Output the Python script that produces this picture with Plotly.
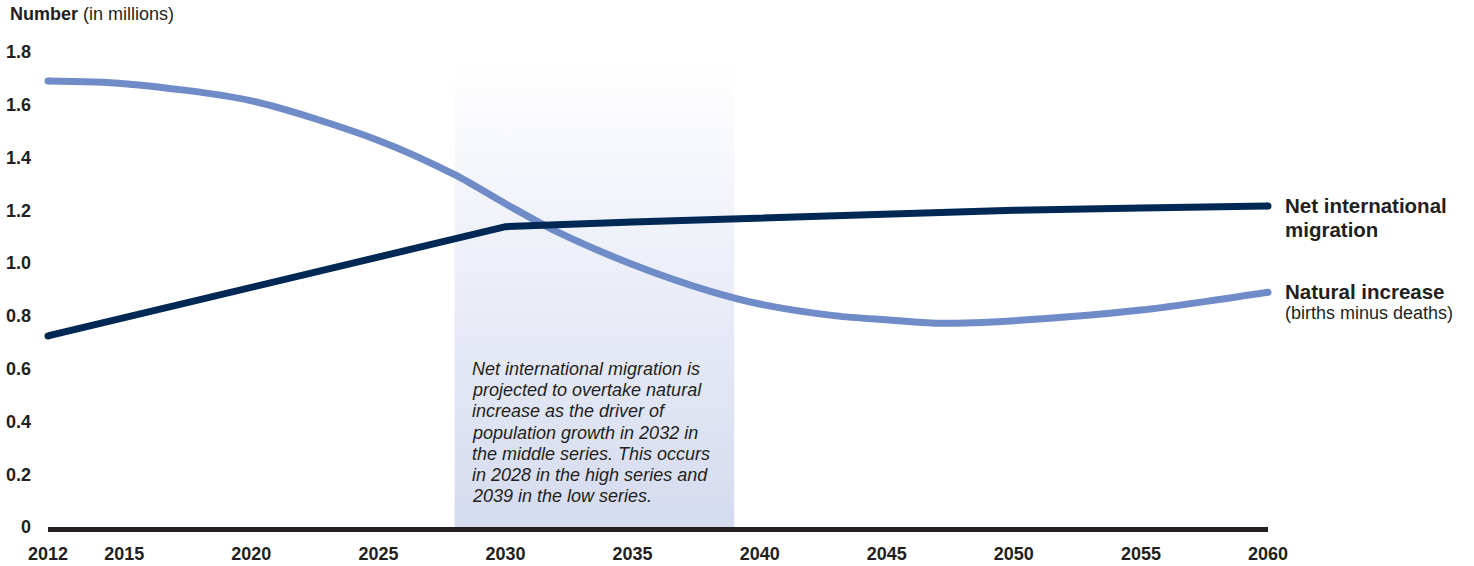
import plotly.graph_objects as go

# Projected components of population change (millions)
years_nat = [2012, 2015, 2020, 2025, 2028, 2030, 2032, 2035, 2038, 2040, 2043, 2045, 2047, 2050, 2055, 2060]
natural_increase = [1.69, 1.68, 1.615, 1.465, 1.335, 1.225, 1.12, 0.995, 0.895, 0.845, 0.80, 0.785, 0.772, 0.782, 0.822, 0.89]

years_mig = [2012, 2030, 2035, 2040, 2045, 2050, 2055, 2060]
net_migration = [0.724, 1.138, 1.156, 1.172, 1.189, 1.200, 1.209, 1.216]

band_years = [2028, 2039]
band_top = 1.77

x_ticks = [2012, 2015, 2020, 2025, 2030, 2035, 2040, 2045, 2050, 2055, 2060]
y_ticks = [0, 0.2, 0.4, 0.6, 0.8, 1.0, 1.2, 1.4, 1.6, 1.8]
y_tick_text = ["0", "0.2", "0.4", "0.6", "0.8", "1.0", "1.2", "1.4", "1.6", "1.8"]

note_lines = [
    "Net international migration is",
    "projected to overtake natural",
    "increase as the driver of",
    "population growth in 2032 in",
    "the middle series. This occurs",
    "in 2028 in the high series and",
    "2039 in the low series.",
]

NAT_COLOR = "#6f8cc8"
MIG_COLOR = "#002855"
TEXT = "#231f20"
FONT = "Liberation Sans, Arial, sans-serif"

fig = go.Figure()

# Shaded period with a vertical gradient
fig.add_trace(go.Scatter(
    x=[band_years[0], band_years[1], band_years[1], band_years[0], band_years[0]],
    y=[0, 0, band_top, band_top, 0],
    mode="lines", line=dict(width=0), fill="toself",
    fillgradient=dict(type="vertical",
                      colorscale=[[0, "#d5dbef"], [1, "#ffffff"]]),
    hoverinfo="skip", showlegend=False,
))

fig.add_trace(go.Scatter(
    x=years_nat, y=natural_increase, mode="lines",
    line=dict(color=NAT_COLOR, width=7, shape="spline", smoothing=0.8),
    showlegend=False, cliponaxis=False,
))
fig.add_trace(go.Scatter(
    x=[years_nat[0], years_nat[-1]], y=[natural_increase[0], natural_increase[-1]],
    mode="markers", marker=dict(color=NAT_COLOR, size=7, line=dict(width=0)),
    showlegend=False, cliponaxis=False,
))
fig.add_trace(go.Scatter(
    x=years_mig, y=net_migration, mode="lines",
    line=dict(color=MIG_COLOR, width=7),
    showlegend=False, cliponaxis=False,
))
fig.add_trace(go.Scatter(
    x=[years_mig[0], years_mig[-1]], y=[net_migration[0], net_migration[-1]],
    mode="markers", marker=dict(color=MIG_COLOR, size=7, line=dict(width=0)),
    showlegend=False, cliponaxis=False,
))


def text_line(x, y, text, size, yshift, xshift=0, **kw):
    return dict(x=x, y=y, xshift=xshift, yshift=yshift, xanchor="left", yanchor="middle",
                showarrow=False, align="left", text=text,
                font=dict(family=FONT, size=size, color=TEXT), **kw)


annotations = [
    dict(xref="paper", yref="paper", x=-0.0325, y=1.0, yshift=26,
         xanchor="left", yanchor="bottom", showarrow=False, align="left",
         text="<b>Number</b> (in millions)",
         font=dict(family=FONT, size=18, color=TEXT)),
    # series labels at the line ends
    text_line(2060, net_migration[-1], "<b>Net international</b>", 20.5, 1, xshift=15),
    text_line(2060, net_migration[-1], "<b>migration</b>", 20.5, -23, xshift=15),
    text_line(2060, natural_increase[-1], "<b>Natural increase</b>", 20.5, 1, xshift=15),
    text_line(2060, natural_increase[-1], "(births minus deaths)", 18, -21, xshift=15),
]

# Note inside the shaded period, one line per row with tight leading
for i, line in enumerate(note_lines):
    annotations.append(text_line(2028.62, 0.6, "<i>%s</i>" % line, 18, -21.3 * i))

fig.update_layout(
    width=1474, height=566,
    margin=dict(l=48, r=206, t=52, b=39),
    paper_bgcolor="white", plot_bgcolor="white",
    font=dict(family=FONT, color=TEXT),
    annotations=annotations,
    xaxis=dict(range=[2012, 2060], tickvals=x_ticks, showgrid=False, zeroline=False,
               showline=True, linecolor=TEXT, linewidth=5, ticks="",
               ticklabelstandoff=6, automargin=False,
               tickfont=dict(family=FONT, size=18, color=TEXT, weight="bold")),
    yaxis=dict(range=[0, 1.8], tickvals=y_ticks, ticktext=y_tick_text,
               showgrid=False, zeroline=False, showline=False, ticks="",
               ticklabelstandoff=16, automargin=False,
               tickfont=dict(family=FONT, size=18, color=TEXT, weight="bold")),
)

fig.write_html("out.html")
